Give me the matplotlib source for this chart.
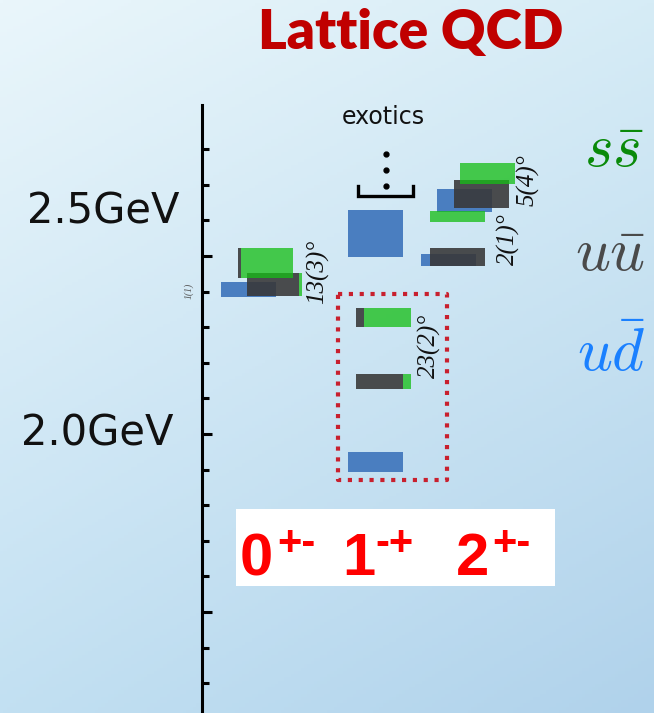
import numpy as np
import matplotlib.pyplot as plt
from matplotlib.ticker import FixedLocator

W, H = 654, 713

# lattice hybrid-meson masses (GeV) and half-errors, per J^PC column
channels = ['0', '1', '2']
channel_pc = ['+-', '-+', '+-']
ud_mass = [[2.406], [1.921, 2.563], [2.489, 2.656]]
ud_err = [[0.021], [0.028, 0.066], [0.017, 0.032]]
light_mass = [[2.420], [2.147], [2.497, 2.674]]
light_err = [[0.032], [0.021], [0.025, 0.039]]
strange_mass = [[2.480], [2.327], [2.611, 2.731]]
strange_err = [[0.042], [0.027], [0.015, 0.030]]
# light/strange mixing angles (degrees) and their labels
mix_angle = [[13], [23], [2, 5]]
mix_label = [['13(3)'], ['23(2)'], ['2(1)', '5(4)']]

# horizontal layout (pixels) of each box
ud_x = [[221], [348, 348], [421, 437]]
light_x = [[247], [356], [430, 454]]
strange_x = [[238], [356], [430, 460]]
label_xy = [[(318, 272)], [(429, 346)], [(508, 239), (528, 180)]]
bar_w = 55

c_ud = '#4a7ec0'
c_light = '#383838'
c_strange = '#16be16'

fig = plt.figure(figsize=(W / 100, H / 100), dpi=100)

# soft blue gradient backdrop
bg = fig.add_axes([0, 0, 1, 1], zorder=0)
u = np.linspace(0, 1, 200)[None, :, None]
v = np.linspace(0, 1, 220)[:, None, None]
tl = np.array([234, 246, 251]) / 255
tr = np.array([214, 236, 246]) / 255
bl = np.array([194, 224, 242]) / 255
br = np.array([176, 210, 235]) / 255
img = (tl * (1 - u) * (1 - v) + tr * u * (1 - v) + bl * (1 - u) * v + br * u * v)
bg.imshow(img, extent=[0, 1, 0, 1], aspect='auto', origin='upper')
bg.axis('off')

# mass axis
m_top = 2.0 + (434 - 105) / 356
m_bot = 2.0 - (H - 434) / 356
ax = fig.add_axes([202 / W, 0, 1 - 202 / W, (H - 105) / H], zorder=1)
ax.set_facecolor('none')
ax.set_xlim(202, W)
ax.set_ylim(m_bot, m_top)
for s in ['top', 'right', 'bottom']:
    ax.spines[s].set_visible(False)
ax.spines['left'].set_linewidth(2.2)
ax.yaxis.set_major_locator(FixedLocator([1.5, 2.0, 2.5]))
ax.yaxis.set_minor_locator(FixedLocator(np.round(np.arange(1.3, 2.85, 0.1), 2)))
ax.tick_params(axis='y', which='major', direction='in', length=7.5, width=2.2, labelleft=False)
ax.tick_params(axis='y', which='minor', direction='in', length=5, width=2.2)
ax.set_xticks([])


def box(x0, w, m, e, color, alpha=1.0):
    ax.add_patch(plt.Rectangle((x0, m - e), w, 2 * e, facecolor=color,
                               edgecolor='none', alpha=alpha))


# isovector boxes first
for i in range(len(channels)):
    for x0, m, e in zip(ud_x[i], ud_mass[i], ud_err[i]):
        box(x0, bar_w, m, e, c_ud)

# isoscalar boxes split by flavour content: grey (light) part, then green (strange)
gray_parts, green_parts = [], []
for i in range(len(channels)):
    for k, th in enumerate(mix_angle[i]):
        s2 = np.sin(np.radians(th)) ** 2
        x0 = light_x[i][k]
        gray_parts.append((x0, bar_w * (1 - s2), light_mass[i][k], light_err[i][k]))
        green_parts.append((x0 + bar_w * (1 - s2), bar_w * s2, light_mass[i][k], light_err[i][k]))
        x0 = strange_x[i][k]
        gray_parts.append((x0, bar_w * s2, strange_mass[i][k], strange_err[i][k]))
        green_parts.append((x0 + bar_w * s2, bar_w * (1 - s2), strange_mass[i][k], strange_err[i][k]))

for p in gray_parts:
    box(*p, c_light, alpha=0.89)
for p in green_parts:
    box(*p, c_strange, alpha=0.76)

# overlay in pixel coordinates for the annotations
ov = fig.add_axes([0, 0, 1, 1], zorder=2)
ov.set_xlim(0, W)
ov.set_ylim(H, 0)
ov.axis('off')

ov.text(411, 33, 'Lattice QCD', ha='center', va='center', fontsize=39.5,
        fontweight='heavy', color='#c00000', family='Lato')
ov.text(180, 212, '2.5GeV', ha='right', va='center', fontsize=30, color='#111111')
ov.text(174, 434, '2.0GeV', ha='right', va='center', fontsize=30, color='#111111')

# flavour legend
plt.rcParams['mathtext.fontset'] = 'cm'
ov.text(614, 150, r'$s\bar{s}$', ha='center', va='center', fontsize=44, color='#0a8a0a')
ov.text(610, 255, r'$u\bar{u}$', ha='center', va='center', fontsize=44, color='#4a4a4a')
ov.text(611, 355, r'$u\bar{d}$', ha='center', va='center', fontsize=44, color='#1a80ff')

# mixing angles
for i in range(len(channels)):
    for (lx, ly), lab in zip(label_xy[i], mix_label[i]):
        ov.text(lx, ly, lab + '°', rotation=90, ha='center', va='center',
                fontsize=18, style='italic', family='Liberation Serif', color='#111111')
ov.text(189, 291, '1(1)', rotation=90, ha='center', va='center', style='italic',
        family='Liberation Serif', fontsize=7, color='#555555')

# exotics marker
ov.text(383, 117, 'exotics', ha='center', va='center', fontsize=17, color='#111111')
ov.plot([386, 386, 386], [154, 170, 186], 'o', color='black', ms=3.5)
ov.plot([358, 358, 413, 413], [186, 196, 196, 186], color='black', lw=2.4,
        solid_joinstyle='miter')

# dotted frame round the exotic 1-+ states
ov.plot([338, 447, 447, 338, 338], [294, 294, 480, 480, 294], color='#c8202e',
        lw=3, linestyle=(0, (1, 1.6)), dash_capstyle='butt')

# J^PC labels
ov.add_patch(plt.Rectangle((236, 509), 319, 77, facecolor='white', edgecolor='none'))
digit_x = [240, 342, 456]
sup_x = [277, 375, 492]
for d, pc, dx, sx in zip(channels, channel_pc, digit_x, sup_x):
    ov.text(dx, 575, d, ha='left', va='baseline', fontsize=43, fontweight='bold',
            color='#ff0000', family='Liberation Sans')
    ov.text(sx, 555, pc, ha='left', va='baseline', fontsize=30, fontweight='bold',
            color='#ff0000', family='Liberation Sans')

fig.savefig('out.png', dpi=100)
